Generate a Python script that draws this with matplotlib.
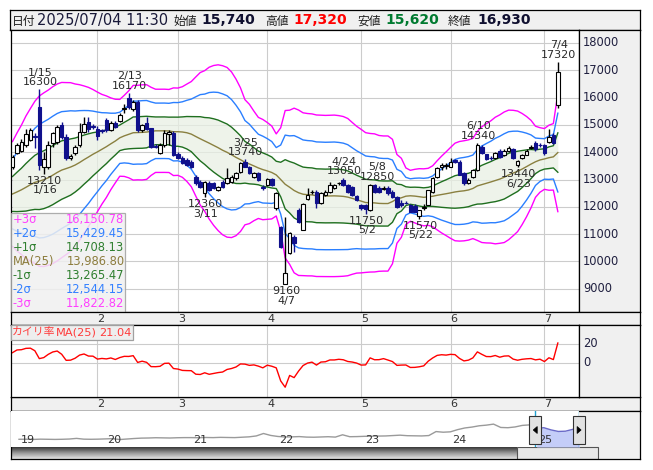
import numpy as np
import matplotlib
matplotlib.use("Agg")
import matplotlib.pyplot as plt
from matplotlib.patches import Rectangle, Polygon
from matplotlib.colors import LinearSegmentedColormap
from matplotlib.transforms import blended_transform_factory

# --------------------------------------------------
# fonts: latin from DejaVu, japanese from Noto CJK
# --------------------------------------------------
plt.rcParams["font.family"] = ["DejaVu Sans", "Noto Sans CJK JP"]

# --------------------------------------------------
# daily candles, 2025/01/06 .. 2025/07/04 (trading days)
# --------------------------------------------------
OPEN = [13450, 13980, 14060, 14260, 14450, 14600, 15640, 13470, 13470, 14330,
        14390, 15000, 14570, 13780, 13980, 14260, 14750, 15120, 14950, 14840,
        14800, 15180, 14810, 15080, 15150, 15580, 15970, 15570, 15850, 14810,
        15060, 14870, 14230, 13980, 14260, 14650, 14700, 13950, 13780, 13710,
        13650, 13100, 12920, 12490, 12860, 12860, 12620, 12920, 12860, 12920,
        13040, 13290, 13650, 13470, 13100, 13230, 12740, 12800, 13010, 11940,
        11270, 9180, 10300, 10900, 11880, 11150, 12270, 12530, 12550, 12130,
        12450, 12550, 12680, 12860, 13000, 12800, 12740, 12400, 12070, 12070,
        11880, 12800, 12680, 12650, 12680, 12550, 12370, 12150, 12150, 12070,
        12030, 11660, 11950, 12070, 12550, 13100, 13470, 13500, 13470, 13720,
        13650, 13230, 12860, 13100, 13350, 14200, 13920, 13800, 13780, 14040,
        13900, 14050, 14120, 13530, 13780, 13900, 14150, 14330, 14280, 14260,
        14390, 14630, 15740]
HIGH = [13900, 14350, 14500, 14840, 14880, 14700, 16300, 14020, 14400, 14750,
        14980, 15100, 14650, 13950, 14250, 15060, 15280, 15280, 15050, 14950,
        14850, 15250, 15150, 15150, 15450, 15750, 16170, 15900, 15900, 15050,
        15300, 14900, 14300, 14350, 14800, 14800, 14780, 14000, 13850, 13780,
        13700, 13170, 13000, 12950, 12950, 12900, 12760, 12980, 13410, 13150,
        13280, 13650, 13740, 13500, 13260, 13260, 12800, 13050, 13050, 12550,
        11300, 11630, 11080, 10970, 11950, 12130, 12680, 12600, 12600, 12560,
        12600, 12920, 12850, 12900, 13050, 12850, 12780, 12450, 12100, 12100,
        12820, 12850, 12750, 12750, 12750, 12600, 12400, 12250, 12200, 12100,
        12100, 11900, 12100, 12620, 13100, 13450, 13600, 13600, 13780, 13750,
        13700, 13280, 13050, 13400, 14340, 14250, 13950, 13850, 14000, 14100,
        14100, 14220, 14150, 13700, 13950, 14100, 14250, 14400, 14350, 14300,
        14840, 14700, 17320]
LOW = [13400, 13950, 14000, 14200, 14400, 14140, 13350, 13210, 13400, 14200,
       14300, 14500, 13700, 13700, 13900, 14200, 14700, 14750, 14850, 14450,
       14700, 14750, 14780, 14900, 15100, 15450, 15600, 15500, 14750, 14750,
       14800, 14150, 14150, 13950, 14200, 14260, 13850, 13750, 13550, 13480,
       13420, 12800, 12700, 12360, 12580, 12650, 12580, 12700, 12820, 12880,
       13000, 13250, 13450, 13200, 13050, 12950, 12620, 12750, 12780, 11880,
       10500, 9160, 10270, 10350, 11400, 11150, 12250, 12480, 11950, 12100,
       12400, 12500, 12650, 12800, 12780, 12520, 12400, 12200, 11900, 11750,
       11850, 12520, 12500, 12600, 12450, 12320, 11950, 12000, 12100, 11800,
       11800, 11570, 11900, 12050, 12500, 13050, 13350, 13400, 13450, 13600,
       13150, 12800, 12820, 13050, 13300, 13950, 13700, 13700, 13750, 13780,
       13850, 14000, 13750, 13440, 13750, 13880, 14100, 14050, 14200, 13900,
       14350, 14300, 15620]
CLOSE = [13830, 14260, 14390, 14670, 14810, 14560, 13530, 13740, 14260, 14690,
         14930, 14570, 13780, 13860, 14200, 14750, 15030, 14840, 14930, 14590,
         14780, 14810, 15060, 14940, 15360, 15620, 15670, 15850, 14810, 15000,
         14840, 14200, 14200, 14260, 14720, 14750, 13900, 13800, 13590, 13530,
         13470, 12860, 12740, 12920, 12620, 12680, 12740, 12740, 13040, 13100,
         13230, 13590, 13470, 13230, 13230, 12980, 12680, 13010, 12800, 12490,
         10540, 9560, 11050, 10660, 11450, 12120, 12430, 12550, 12130, 12520,
         12560, 12800, 12800, 12880, 12800, 12550, 12430, 12250, 11940, 11910,
         12800, 12550, 12550, 12680, 12490, 12370, 11980, 12060, 12130, 11820,
         11820, 11880, 11980, 12600, 13040, 13410, 13530, 13520, 13650, 13650,
         13170, 12860, 13000, 13350, 14260, 13980, 13740, 13780, 13980, 13810,
         14040, 14150, 13780, 13680, 13900, 14060, 14200, 14100, 14260, 13960,
         14550, 14330, 16930]

# 25-day moving average and sigma
MA25 = [12470, 12544, 12623, 12714, 12809, 12895, 12939, 12993, 13066, 13158,
        13258, 13345, 13400, 13457, 13529, 13622, 13727, 13824, 13925, 14012,
        14107, 14202, 14308, 14409, 14527, 14598, 14655, 14713, 14719, 14726,
        14738, 14764, 14783, 14783, 14784, 14777, 14750, 14751, 14740, 14713,
        14662, 14575, 14491, 14411, 14332, 14248, 14165, 14072, 13996, 13906,
        13810, 13727, 13632, 13569, 13498, 13424, 13363, 13315, 13257, 13168,
        12999, 12826, 12716, 12598, 12515, 12461, 12444, 12436, 12405, 12401,
        12396, 12398, 12401, 12394, 12382, 12355, 12309, 12260, 12208, 12156,
        12148, 12143, 12125, 12120, 12120, 12193, 12290, 12330, 12389, 12404,
        12392, 12370, 12347, 12366, 12387, 12421, 12450, 12479, 12510, 12544,
        12568, 12586, 12616, 12672, 12766, 12813, 12861, 12910, 12962, 13015,
        13082, 13168, 13237, 13299, 13382, 13472, 13565, 13650, 13716, 13753,
        13798, 13830, 13986.80]
SIGMA25 = [640, 720, 790, 870, 930, 990, 1040, 1060, 1070, 1080,
           1080, 1070, 1050, 1030, 990, 950, 900, 850, 790, 730,
           670, 620, 560, 510, 469, 495, 531, 578, 577, 581,
           578, 538, 508, 508, 508, 507, 535, 533, 553, 594,
           642, 727, 809, 859, 927, 976, 1012, 1032, 1036, 1011,
           956, 877, 764, 728, 669, 617, 612, 591, 567, 501,
           632, 900, 941, 1005, 1010, 994, 991, 989, 986, 985,
           984, 985, 986, 982, 975, 960, 927, 896, 876, 853,
           846, 843, 829, 825, 825, 760, 542, 482, 345, 311,
           327, 342, 348, 348, 372, 422, 469, 511, 555, 596,
           608, 611, 612, 612, 666, 707, 728, 746, 773, 784,
           797, 791, 766, 736, 679, 612, 534, 434, 394, 371,
           397, 406, 721.327]

# deviation rate from MA(25), %
KAIRI = [10.9, 13.7, 14.0, 15.4, 15.6, 12.9, 4.6, 5.7, 9.1, 11.6,
         12.6, 9.2, 2.8, 3.0, 5.0, 8.3, 9.5, 7.3, 7.2, 4.1,
         4.8, 4.3, 5.3, 3.7, 5.7, 7.0, 6.9, 7.7, 0.6, 1.9,
         0.7, -3.8, -3.9, -3.5, -0.4, -0.2, -5.8, -6.4, -7.8, -8.0,
         -8.1, -11.8, -12.1, -10.3, -11.9, -11.0, -10.1, -9.5, -6.8, -5.8,
         -4.2, -1.0, -1.2, -2.5, -2.0, -3.3, -5.1, -2.3, -3.4, -5.1,
         -18.9, -25.5, -13.1, -15.4, -8.5, -2.7, -0.1, 0.9, -2.2, 1.0,
         1.3, 3.2, 3.2, 3.9, 3.4, 1.6, 1.0, -0.1, -2.2, -2.0,
         5.4, 3.4, 3.5, 4.6, 3.1, 1.5, -2.5, -2.2, -2.1, -4.7,
         -4.6, -4.0, -3.0, 1.9, 5.3, 8.0, 8.7, 8.3, 9.1, 8.8,
         4.8, 2.2, 3.0, 5.4, 11.7, 9.1, 6.8, 6.7, 7.9, 6.1,
         7.3, 7.5, 4.1, 2.9, 3.9, 4.4, 4.7, 3.3, 4.0, 1.5,
         5.5, 3.6, 21.04]

# first trading day of each month (index into the daily arrays)
MONTH_IDX = [19, 37, 57, 78, 98, 119]
MONTH_LABELS = ["2", "3", "4", "5", "6", "7"]

HIGH_MARKS = [(6, "1/15"), (26, "2/13"), (52, "3/25"), (74, "4/24"),
              (81, "5/8"), (104, "6/10"), (122, "7/4")]
LOW_MARKS = [(7, "1/16"), (43, "3/11"), (61, "4/7"), (79, "5/2"),
             (91, "5/22"), (113, "6/23")]

PRICE_TICKS = [9000, 10000, 11000, 12000, 13000, 14000, 15000, 16000, 17000, 18000]
KAIRI_TICKS = [20, 0]

BAND_NAMES = ["+3σ", "+2σ", "+1σ", "MA(25)", "-1σ", "-2σ", "-3σ"]
BAND_K = [3, 2, 1, 0, -1, -2, -3]

# long term navigator, monthly from 2019/01
NAV_PRICE = [6000, 6050, 5900, 6100, 6000, 5900, 6000, 6200, 6700, 6100, 6000, 6100,
             6300, 6500, 5800, 6200, 6600, 6900, 7000, 7200, 7100, 7000, 7200, 7300,
             7300, 7200, 7400, 7300, 7500, 7400, 7300, 7600, 7900, 8600, 10500, 9000,
             8200, 7800, 7900, 8100, 7700, 7600, 7800, 8000, 7700, 9500, 8000, 8100,
             8300, 8400, 8500, 8600, 8900, 9200, 8800, 8700, 8600, 8900, 12000, 11500,
             11800, 13500, 14800, 15500, 16500, 17000, 17800, 15200, 15000, 15600, 16800, 17200,
             14500, 15000, 13300, 12100, 12300, 13700, 16000]
NAV_YEARS = ["19", "20", "21", "22", "23", "24", "25"]
SEL_START, SEL_END = 71.8, 77.9

# --------------------------------------------------
# layout (pixels of the 653 x 470 canvas)
# --------------------------------------------------
W, H = 653, 470
X0_PX, DX_PX = 12.5, 4.47          # first candle centre, pixels per day
NAV_X0_PX, NAV_DX_PX = 19.0, 7.19  # 2019/01 position, pixels per month
GRID = "#cccccc"
PANEL = "#f0f0f0"
NAVY = "#10108c"
BAND_COLORS = ["#ff00ff", "#2a7fff", "#1f6f1f", "#8a8040", "#1f6f1f", "#2a7fff", "#ff00ff"]
LEGEND_COLORS = ["#ff40ff", "#3380ff", "#2f7f2f", "#8c7c3c", "#2f7f2f", "#3380ff", "#ff40ff"]

fig = plt.figure(figsize=(W / 100, H / 100), dpi=100, facecolor="white")


def px_axes(x0, y0, x1, y1, fc="white", spines=True):
    ax = fig.add_axes([x0 / W, 1 - y1 / H, (x1 - x0) / W, (y1 - y0) / H], facecolor=fc)
    ax.set_xticks([])
    ax.set_yticks([])
    for s in ax.spines.values():
        s.set_linewidth(0.9)
        s.set_color("black")
        s.set_visible(spines)
    return ax


def day_lim(px_left, px_right):
    return ((px_left - X0_PX) / DX_PX, (px_right - X0_PX) / DX_PX)


idx = np.arange(len(CLOSE))
o, h, l, c = map(np.array, (OPEN, HIGH, LOW, CLOSE))
ma, sg = np.array(MA25), np.array(SIGMA25)

# --------------------------------------------------
# header
# --------------------------------------------------
ax_h = px_axes(10, 10, 640, 30, fc=PANEL)
ax_h.set_xlim(10, 640)
ax_h.set_ylim(30, 10)
ax_h.text(12, 24.5, "日付", fontsize=8.5, color="#202020", va="baseline")
ax_h.text(37, 24.5, "2025/07/04 11:30", fontsize=10.5, color="#1a1a3a", va="baseline")
head = [("始値", OPEN[-1], "#101030"), ("高値", HIGH[-1], "#ff0000"),
        ("安値", LOW[-1], "#007a30"), ("終値", CLOSE[-1], "#101030")]
for (lab, val, col), xl, xv in zip(head, [173, 265, 357, 448], [201, 293, 385, 477]):
    ax_h.text(xl, 24.5, lab, fontsize=8.5, color="#202020", va="baseline")
    ax_h.text(xv, 24.5, f"{val:,}", fontsize=10, fontweight="bold", color=col, va="baseline")

# --------------------------------------------------
# main candle chart
# --------------------------------------------------
ax = px_axes(11, 30, 579, 312)
ax.set_xlim(*day_lim(11, 579))
ax.set_ylim(8147, 18476)
for v in PRICE_TICKS:
    ax.axhline(v, color=GRID, lw=0.8, zorder=0)
for m in MONTH_IDX:
    ax.axvline(m, color=GRID, lw=0.8, zorder=0)

ax.fill_between(idx, ma - sg, ma + sg, color="#e9f0e4", alpha=0.75, lw=0, zorder=1)
for k, col in zip(BAND_K, BAND_COLORS):
    ax.plot(idx, ma + k * sg, color=col, lw=1.0, zorder=2)

up = c >= o
ax.vlines(idx, l, h, colors=np.where(up, "black", NAVY), lw=1.0, zorder=3)
ax.bar(idx[up], (c - o)[up], bottom=o[up], width=0.8, color="white",
       edgecolor="black", lw=0.8, zorder=4)
ax.bar(idx[~up], (o - c)[~up], bottom=c[~up], width=0.8, color=NAVY,
       edgecolor=NAVY, lw=0.8, zorder=4)

for i, d in HIGH_MARKS:
    dx = 3 if d == "5/8" else 1
    ax.annotate(f"{d}\n{HIGH[i]}", xy=(i, HIGH[i]), xytext=(dx, 2), textcoords="offset pixels",
                ha="center", va="bottom", fontsize=8, linespacing=0.95, color="#2a2a2a", zorder=6)
for i, d in LOW_MARKS:
    ax.annotate(f"{LOW[i]}\n{d}", xy=(i, LOW[i]), xytext=(1, -2), textcoords="offset pixels",
                ha="center", va="top", fontsize=8, linespacing=0.95, color="#2a2a2a", zorder=6)

# band legend box
ax.add_patch(Rectangle((0, 0), 114 / 568, 99 / 282, transform=ax.transAxes,
                       fc=PANEL, ec="#a0a0a0", lw=0.9, alpha=0.85, zorder=10))
for r, (name, k, col) in enumerate(zip(BAND_NAMES, BAND_K, LEGEND_COLORS)):
    yy = (312 - (220 + 13.9 * r)) / 282
    ax.text(1.5 / 568, yy, name, transform=ax.transAxes, fontsize=8.3, color=col,
            va="center", ha="left", zorder=11)
    ax.text(113.5 / 568, yy, f"{MA25[-1] + k * SIGMA25[-1]:,.2f}", transform=ax.transAxes,
            fontsize=8.3, color=col, va="center", ha="right", zorder=11)

ax_r = px_axes(579, 30, 640, 312, fc=PANEL)
ax_r.set_ylim(ax.get_ylim())
tr = blended_transform_factory(ax_r.transAxes, ax_r.transData)
for v in PRICE_TICKS:
    ax_r.text(4 / 61, v, f"{v}", transform=tr, fontsize=8.3, color="#202040",
              va="center", ha="left")

# --------------------------------------------------
# month strips
# --------------------------------------------------
for y0, y1 in [(312, 325), (397, 411)]:
    ax_s = px_axes(11, y0, 640, y1, fc=PANEL)
    ax_s.set_xlim(*day_lim(11, 640))
    ax_s.set_ylim(0, 1)
    for m, lab in zip(MONTH_IDX, MONTH_LABELS):
        ax_s.text(m + 0.8, 0.5, lab, fontsize=8, color="#333333", ha="center", va="center")

# --------------------------------------------------
# kairi (deviation from MA25) panel
# --------------------------------------------------
ax_k = px_axes(11, 325, 579, 397)
ax_k.set_xlim(*day_lim(11, 579))
ax_k.set_ylim(-35.8, 40)
for v in KAIRI_TICKS:
    ax_k.axhline(v, color=GRID, lw=0.8, zorder=0)
for m in MONTH_IDX:
    ax_k.axvline(m, color=GRID, lw=0.8, zorder=0)
ax_k.plot(idx, KAIRI, color="#ff0000", lw=1.0, zorder=2)
ax_k.add_patch(Rectangle((0, 1 - 15 / 72), 122 / 568, 15 / 72, transform=ax_k.transAxes,
                         fc="#eeeeee", ec="#a0a0a0", lw=0.9, zorder=5))
ky = 1 - 7.5 / 72
ax_k.text(1 / 568, ky, "カイリ率", transform=ax_k.transAxes, fontsize=7.8,
          color="#ff3b3b", va="center", ha="left", zorder=6)
ax_k.text(45 / 568, ky, "MA(25)", transform=ax_k.transAxes, fontsize=8.2,
          color="#ff3b3b", va="center", ha="left", zorder=6)
ax_k.text(121 / 568, ky, f"{KAIRI[-1]:.2f}", transform=ax_k.transAxes, fontsize=8.2,
          color="#ff3b3b", va="center", ha="right", zorder=6)

ax_kr = px_axes(579, 325, 640, 397, fc=PANEL)
ax_kr.set_ylim(ax_k.get_ylim())
trk = blended_transform_factory(ax_kr.transAxes, ax_kr.transData)
for v in KAIRI_TICKS:
    ax_kr.text(4 / 61, v, f"{v}", transform=trk, fontsize=8.3, color="#202040",
               va="center", ha="left")

# --------------------------------------------------
# navigator
# --------------------------------------------------
ax_nb = px_axes(11, 411, 640, 459, fc=PANEL)
ax_nb.set_xlim(11, 640)
ax_nb.set_ylim(459, 411)
grad = LinearSegmentedColormap.from_list("sb", ["#3a3a3a", "#9a9a9a", "#e4e4e4"])
ax_nb.imshow(np.linspace(0, 1, 24).reshape(-1, 1), extent=(11, 517, 459, 447),
             cmap=grad, aspect="auto", origin="upper", zorder=1)
ax_nb.add_patch(Rectangle((517, 447), 81, 12, fc="#e8e8e8", ec="#555555", lw=0.8, zorder=2))

nav_xmin = (11 - NAV_X0_PX) / NAV_DX_PX
nav_xmax = (579 - NAV_X0_PX) / NAV_DX_PX
ax_n = px_axes(11, 411, 579, 447, spines=False)
ax_n.set_xlim(nav_xmin, nav_xmax)
ax_n.set_ylim(0, 28000)
nm = np.arange(len(NAV_PRICE))
npx = np.array(NAV_PRICE)
sel = nm >= 72
ax_n.fill_between(nm[sel], 0, npx[sel], color="#c4cdf8", lw=0, zorder=1)
ax_n.plot(nm[nm <= 72], npx[nm <= 72], color="#9a9a9a", lw=1.0, zorder=2)
ax_n.plot(nm[sel], npx[sel], color="#6a6ac8", lw=1.0, zorder=2)
trn = blended_transform_factory(ax_n.transData, ax_n.transAxes)
for j, lab in enumerate(NAV_YEARS):
    ax_n.text(12 * j + 0.2, 7 / 36, lab, transform=trn, fontsize=8, color="#333333",
              ha="left", va="center", zorder=3)
for m in (SEL_START, SEL_END):
    ax_n.axvline(m, color="#20a0d0", lw=1.0, zorder=4)

ax_top = px_axes(11, 411, 640, 459, fc="none", spines=False)
ax_top.set_xlim(11, 640)
ax_top.set_ylim(459, 411)
for m, dirn in ((SEL_START, -1), (SEL_END, 1)):
    cx = NAV_X0_PX + m * NAV_DX_PX
    ax_top.add_patch(Rectangle((cx - 6, 416), 12, 28, fc="#e2e2e2", ec="#333333", lw=0.8, zorder=5))
    ax_top.add_patch(Polygon([(cx - 2 * dirn, 426.5), (cx - 2 * dirn, 433.5), (cx + 2 * dirn, 430)],
                             closed=True, fc="black", ec="black", lw=0.5, zorder=6))

fig.savefig("out.png", dpi=100, facecolor="white")
